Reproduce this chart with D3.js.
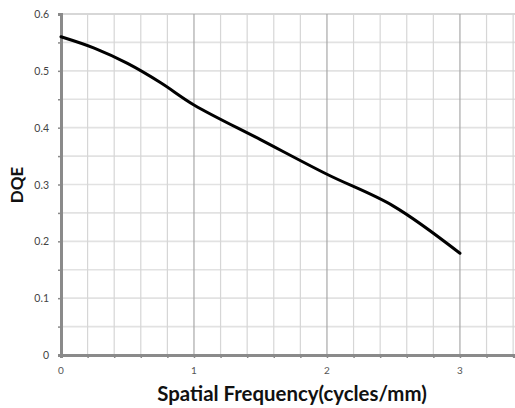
<!DOCTYPE html>
<html>
<head>
<meta charset="utf-8">
<script src="https://cdn.jsdelivr.net/npm/d3@7"></script>
<style>
  body { margin: 0; background: #fff; }
  svg { display: block; }
  text { font-family: Lato, "Open Sans", sans-serif; }
</style>
</head>
<body>
<svg width="515" height="408"></svg>
<script>
// DQE readings
const freq = [0, 0.25, 0.5, 0.75, 1.0, 1.5, 2.0, 2.5, 3.0];
const dqe = [0.560, 0.540, 0.513, 0.479, 0.440, 0.379, 0.318, 0.262, 0.179];

const xTicks = [0, 1, 2, 3];
const yTicks = [0, 0.1, 0.2, 0.3, 0.4, 0.5, 0.6];
const xMinor = d3.range(0, 3.41, 0.2);
const yMinor = d3.range(0, 0.601, 0.05);

const svg = d3.select("svg");
const plotL = 61, plotR = 515, plotT = 14, plotB = 355;

const x = d3.scaleLinear().domain([0, 3.414]).range([plotL, plotR]);
const y = d3.scaleLinear().domain([0, 0.6]).range([plotB, plotT]);

// horizontal grid
svg.append("g")
    .selectAll("line")
    .data(yMinor.filter(d => d > 0.001))
    .join("line")
    .attr("x1", plotL).attr("x2", plotR)
    .attr("y1", d => y(d)).attr("y2", d => y(d))
    .attr("stroke", d => d > 0.599 ? "#b0b0b0" : "#e2e2e2")
    .attr("stroke-width", d => d > 0.599 ? 1.2 : 1.6);

// vertical grid
svg.append("g")
    .selectAll("line")
    .data(xMinor.filter(d => d > 0.01))
    .join("line")
    .attr("x1", d => x(d)).attr("x2", d => x(d))
    .attr("y1", plotT).attr("y2", plotB)
    .attr("stroke", d => Math.abs(d - Math.round(d)) < 0.01 ? "#a8a8a8" : "#d6d6d6")
    .attr("stroke-width", 1.2);

// axes
const xAxis = svg.append("g")
    .attr("transform", `translate(0,${plotB})`)
    .call(d3.axisBottom(x).tickValues(xMinor).tickSize(3).tickFormat(""));
const yAxis = svg.append("g")
    .attr("transform", `translate(${plotL},0)`)
    .call(d3.axisLeft(y).tickValues(yMinor).tickSize(3).tickFormat(""));

[xAxis, yAxis].forEach(a => {
    a.select(".domain").attr("stroke", "#8a8a8a").attr("stroke-width", 3);
    a.selectAll(".tick line").attr("stroke", "#8a8a8a").attr("stroke-width", 1.5);
});

// tick labels
svg.append("g")
    .selectAll("text")
    .data(xTicks)
    .join("text")
    .attr("x", d => x(d))
    .attr("y", plotB + 19)
    .attr("text-anchor", "middle")
    .attr("font-size", 10)
    .attr("fill", "#555")
    .text(d => d);

svg.append("g")
    .selectAll("text")
    .data(yTicks)
    .join("text")
    .attr("x", plotL - 12)
    .attr("y", d => y(d) + 4)
    .attr("text-anchor", "end")
    .attr("font-size", 10.5)
    .attr("fill", "#444")
    .text(d => d);

// curve
svg.append("path")
    .datum(freq.map((f, i) => [f, dqe[i]]))
    .attr("fill", "none")
    .attr("stroke", "#000")
    .attr("stroke-width", 3)
    .attr("stroke-linecap", "round")
    .attr("d", d3.line().x(d => x(d[0])).y(d => y(d[1])).curve(d3.curveCatmullRom.alpha(0.5)));

// axis titles
svg.append("text")
    .attr("x", 292)
    .attr("y", 401)
    .attr("text-anchor", "middle")
    .attr("font-size", 20.4)
    .attr("font-weight", "bold")
    .attr("fill", "#111")
    .text("Spatial Frequency(cycles/mm)");

svg.append("text")
    .attr("transform", "translate(23,185) rotate(-90)")
    .attr("text-anchor", "middle")
    .attr("font-size", 17)
    .attr("font-weight", "bold")
    .attr("fill", "#111")
    .text("DQE");
</script>
</body>
</html>
